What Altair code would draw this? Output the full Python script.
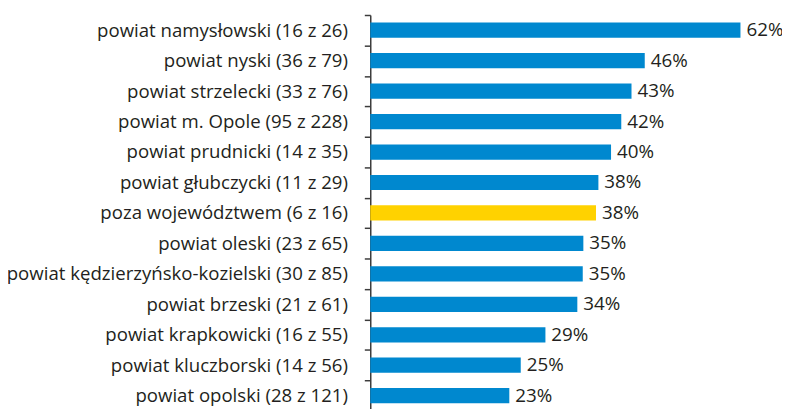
import altair as alt
import pandas as pd

categories = [
    "powiat namysłowski (16 z 26)",
    "powiat nyski (36 z 79)",
    "powiat strzelecki (33 z 76)",
    "powiat m. Opole (95 z 228)",
    "powiat prudnicki (14 z 35)",
    "powiat głubczycki (11 z 29)",
    "poza województwem (6 z 16)",
    "powiat oleski (23 z 65)",
    "powiat kędzierzyńsko-kozielski (30 z 85)",
    "powiat brzeski (21 z 61)",
    "powiat krapkowicki (16 z 55)",
    "powiat kluczborski (14 z 56)",
    "powiat opolski (28 z 121)",
]
values = [61.5, 45.6, 43.4, 41.7, 40.0, 37.9, 37.5, 35.4, 35.3, 34.4, 29.1, 25.0, 23.1]
value_labels = ["62%", "46%", "43%", "42%", "40%", "38%", "38%", "35%", "35%", "34%", "29%", "25%", "23%"]
groups = ["powiat"] * 6 + ["poza"] + ["powiat"] * 6

df = pd.DataFrame({"cat": categories, "val": values, "lab": value_labels, "grp": groups})

FONT = "Open Sans"
TXT = "#231f20"
STEP = 400 / 13

y = alt.Y(
    "cat:N",
    sort=categories,
    title=None,
    scale=alt.Scale(paddingInner=0.5, paddingOuter=0.25, range=[0, 400]),
    axis=alt.Axis(
        tickOffset=-STEP / 2,
        labelOffset=STEP / 2,
        tickSize=6,
        tickColor="#3c3c3c",
        tickWidth=1.5,
        domainColor="#3c3c3c",
        domainWidth=1.5,
        labelFont=FONT,
        labelFontSize=18.8,
        labelColor=TXT,
        labelPadding=17,
        labelLimit=500,
    ),
)
x = alt.X(
    "val:Q",
    title=None,
    scale=alt.Scale(domain=[0, 68.4], nice=False, zero=True),
    axis=None,
)

bars = alt.Chart(df).mark_bar().encode(
    x=x,
    y=y,
    color=alt.Color(
        "grp:N",
        scale=alt.Scale(domain=["powiat", "poza"], range=["#0088cf", "#ffd200"]),
        legend=None,
    ),
)

text = alt.Chart(df).mark_text(
    align="left", baseline="middle", dx=6, font=FONT, fontSize=19, color=TXT
).encode(x=x, y=y, text="lab:N")

chart = (
    (bars + text)
    .properties(
        width=416,
        height=396,
        padding={"left": 366, "top": 5, "right": 0, "bottom": 0},
        autosize=alt.AutoSizeParams(type="none"),
    )
    .configure_view(stroke=None)
)

chart.save("out.html", embed_options={"renderer": "svg", "actions": False})
